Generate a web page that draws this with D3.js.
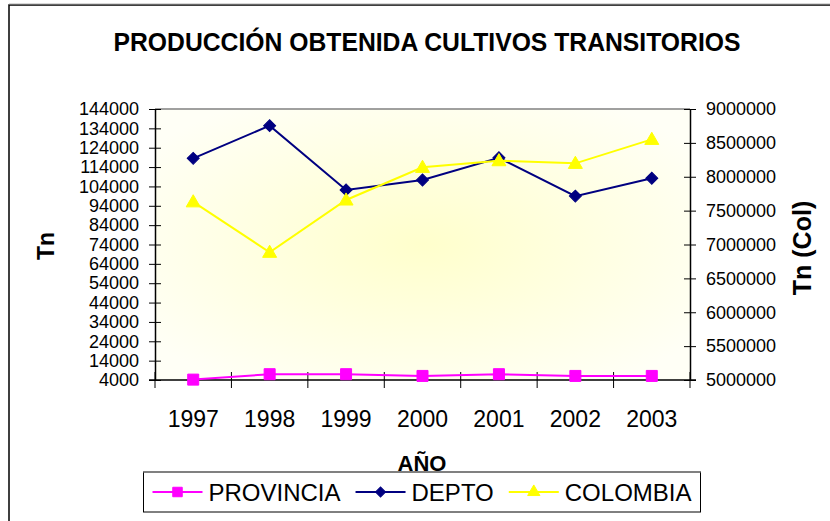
<!DOCTYPE html>
<html>
<head>
<meta charset="utf-8">
<script src="https://cdn.jsdelivr.net/npm/d3@7"></script>
<style>
  html, body { margin: 0; padding: 0; background: #fff; }
  svg { display: block; font-family: "Liberation Sans", Arial, sans-serif; }
</style>
</head>
<body>
<svg id="chart" width="830" height="521"></svg>
<script>
// ---- data ----
const years = ["1997", "1998", "1999", "2000", "2001", "2002", "2003"];
const provincia = [4200, 7000, 7000, 6100, 7000, 6100, 6100];
const depto = [118500, 135400, 102200, 107300, 118800, 99000, 108200];
const colombia = [7630000, 6885000, 7657000, 8139000, 8237000, 8198000, 8552000];
const leftTicks = [4000, 14000, 24000, 34000, 44000, 54000, 64000, 74000, 84000, 94000, 104000, 114000, 124000, 134000, 144000];
const rightTicks = [5000000, 5500000, 6000000, 6500000, 7000000, 7500000, 8000000, 8500000, 9000000];
const seriesNames = ["PROVINCIA", "DEPTO", "COLOMBIA"];
const titleText = "PRODUCCIÓN OBTENIDA CULTIVOS TRANSITORIOS";
const xTitle = "AÑO";
const yLeftTitle = "Tn";
const yRightTitle = "Tn (Col)";

// ---- layout ----
const svg = d3.select("#chart");
const P = { left: 155, right: 690, top: 109, bottom: 380 };

// outer frame
svg.append("rect").attr("x", 9).attr("y", 5).attr("width", 840).attr("height", 540)
  .attr("fill", "#fff").attr("stroke", "#000").attr("stroke-width", 1.5);
svg.append("line").attr("x1", 9).attr("x2", 830).attr("y1", 3.8).attr("y2", 3.8)
  .attr("stroke", "#c8c8c8").attr("stroke-width", 1);

// gradient
const defs = svg.append("defs");
const grad = defs.append("radialGradient").attr("id", "bg")
  .attr("cx", "0.5").attr("cy", "0.5").attr("r", "0.62");
grad.append("stop").attr("offset", "0%").attr("stop-color", "#FFFFCC");
grad.append("stop").attr("offset", "100%").attr("stop-color", "#FFFFF6");

svg.append("rect").attr("x", P.left).attr("y", P.top)
  .attr("width", P.right - P.left).attr("height", P.bottom - P.top)
  .attr("fill", "url(#bg)");
svg.append("line").attr("x1", P.left).attr("x2", P.right).attr("y1", P.top).attr("y2", P.top)
  .attr("stroke", "#808080").attr("stroke-width", 1.5);

// scales
const x = d3.scaleBand().domain(years).range([P.left, P.right]).padding(0);
const yL = d3.scaleLinear().domain([4000, 144000]).range([P.bottom, P.top]);
const yR = d3.scaleLinear().domain([5000000, 9000000]).range([P.bottom, P.top]);

// left axis
const gL = svg.append("g").attr("transform", `translate(${P.left},0)`)
  .call(d3.axisLeft(yL).tickValues(leftTicks).tickFormat(d3.format("d")).tickSizeInner(6).tickSizeOuter(0).tickPadding(10));
gL.selectAll(".tick line").attr("x2", -6).clone().attr("x2", 6);
gL.selectAll(".tick line").attr("stroke", "#000");
gL.select(".domain").attr("stroke", "#000").attr("stroke-width", 1.5);
gL.selectAll("text").attr("font-size", 18).attr("fill", "#000")
  .attr("font-family", "'Liberation Sans', Arial, sans-serif");

// right axis
const gR = svg.append("g").attr("transform", `translate(${P.right},0)`)
  .call(d3.axisRight(yR).tickValues(rightTicks).tickFormat(d3.format("d")).tickSizeInner(6).tickSizeOuter(0).tickPadding(10));
gR.selectAll(".tick line").clone().attr("x2", -6);
gR.selectAll(".tick line").attr("stroke", "#000");
gR.select(".domain").attr("stroke", "#000").attr("stroke-width", 1.5);
gR.selectAll("text").attr("font-size", 18).attr("fill", "#000")
  .attr("font-family", "'Liberation Sans', Arial, sans-serif");

// bottom axis (ticks at band boundaries)
const gB = svg.append("g").attr("transform", `translate(0,${P.bottom})`);
gB.append("line").attr("x1", P.left - 6).attr("x2", P.right + 6).attr("y1", 0).attr("y2", 0)
  .attr("stroke", "#000").attr("stroke-width", 1.5);
const edges = years.map(d => x(d)).concat([x(years[years.length - 1]) + x.bandwidth()]);
gB.selectAll("line.tk").data(edges).enter().append("line").attr("class", "tk")
  .attr("x1", d => d).attr("x2", d => d).attr("y1", -8).attr("y2", 8)
  .attr("stroke", "#000").attr("stroke-width", 1);
gB.selectAll("text").data(years).enter().append("text")
  .attr("x", d => x(d) + x.bandwidth() / 2).attr("y", 47)
  .attr("text-anchor", "middle").attr("font-size", 23).attr("fill", "#000")
  .text(d => d);

// lines
const cx = (d, i) => x(years[i]) + x.bandwidth() / 2;
const series = [
  { name: seriesNames[0], vals: provincia, y: yL, color: "#FF00FF", marker: "square" },
  { name: seriesNames[1], vals: depto, y: yL, color: "#000080", marker: "diamond" },
  { name: seriesNames[2], vals: colombia, y: yR, color: "#FFFF00", marker: "triangle" }
];
const symbolFor = m => m === "square" ? d3.symbol().type(d3.symbolSquare).size(121)
  : m === "diamond" ? d3.symbol().type(d3.symbolSquare).size(72)
  : d3.symbol().type(d3.symbolTriangle).size(85);
const rotFor = m => m === "diamond" ? " rotate(45)" : "";

series.forEach(s => {
  const line = d3.line().x(cx).y(d => s.y(d));
  svg.append("path").datum(s.vals).attr("d", line)
    .attr("fill", "none").attr("stroke", s.color).attr("stroke-width", 2);
  svg.append("g").selectAll("path").data(s.vals).enter().append("path")
    .attr("d", symbolFor(s.marker))
    .attr("transform", (d, i) => `translate(${cx(d, i)},${s.y(d) + (s.marker === "triangle" ? 1 : 0)})${rotFor(s.marker)}`)
    .attr("fill", s.color).attr("stroke", s.color).attr("stroke-width", 1);
});

// title (slightly condensed, taller glyphs)
svg.append("text").attr("x", 427).attr("y", 51).attr("text-anchor", "middle")
  .attr("font-size", 26).attr("font-weight", "bold").attr("fill", "#000")
  .attr("textLength", 627).attr("lengthAdjust", "spacingAndGlyphs")
  .text(titleText);

// axis titles
svg.append("text").attr("x", 422).attr("y", 471).attr("text-anchor", "middle")
  .attr("font-size", 22).attr("font-weight", "bold").attr("fill", "#000").text(xTitle);
svg.append("text").attr("transform", "translate(54,246) rotate(-90)").attr("text-anchor", "middle")
  .attr("font-size", 23).attr("font-weight", "bold").attr("fill", "#000").text(yLeftTitle);
svg.append("text").attr("transform", "translate(811,248) rotate(-90)").attr("text-anchor", "middle")
  .attr("font-size", 25).attr("font-weight", "bold").attr("fill", "#000").text(yRightTitle);

// legend
const lg = svg.append("g");
lg.append("rect").attr("x", 143.5).attr("y", 472).attr("width", 557).attr("height", 40)
  .attr("fill", "#fff").attr("stroke", "#000").attr("stroke-width", 1);
lg.append("line").attr("x1", 143.5).attr("x2", 700.5).attr("y1", 472).attr("y2", 472)
  .attr("stroke", "#808080").attr("stroke-width", 2);
let lx = 152.5;
const ly = 492;
series.forEach(s => {
  lg.append("line").attr("x1", lx).attr("x2", lx + 50).attr("y1", ly).attr("y2", ly)
    .attr("stroke", s.color).attr("stroke-width", 2);
  const sz = s.marker === "square" ? d3.symbol().type(d3.symbolSquare).size(90)
    : s.marker === "diamond" ? d3.symbol().type(d3.symbolSquare).size(50)
    : d3.symbol().type(d3.symbolTriangle).size(65);
  lg.append("path").attr("d", sz)
    .attr("transform", `translate(${lx + 25},${ly})${rotFor(s.marker)}`)
    .attr("fill", s.color).attr("stroke", s.color);
  const t = lg.append("text").attr("x", lx + 56).attr("y", ly + 9)
    .attr("font-size", 24).attr("fill", "#000").text(s.name);
  lx = lx + 56 + t.node().getComputedTextLength() + 15;
});
</script>
</body>
</html>
